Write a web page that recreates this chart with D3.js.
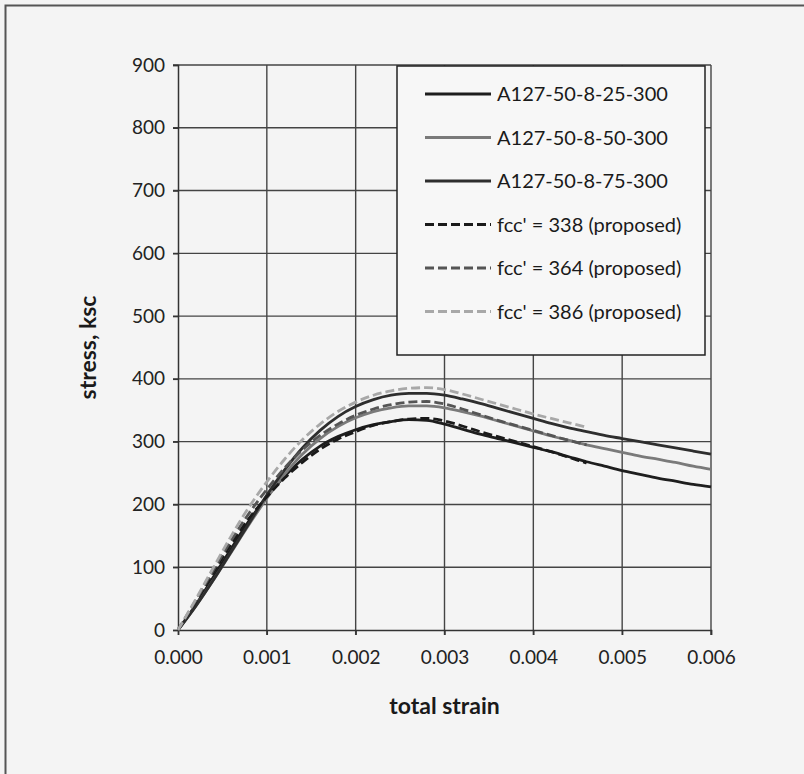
<!DOCTYPE html>
<html>
<head>
<meta charset="utf-8">
<script src="https://cdn.jsdelivr.net/npm/d3@7"></script>
<style>
  html, body { margin: 0; padding: 0; background: #f4f4f4; }
  svg { display: block; font-family: Lato, "Open Sans", sans-serif; }
</style>
</head>
<body>
<svg id="chart" width="804" height="774"></svg>
<script>
const width = 804;
const height = 774;

// strain values of the sampled points (solid = test, dashed = proposed model)
var strainTest = [0, 0.0002, 0.0004, 0.0006, 0.0008, 0.001, 0.0012, 0.0014, 0.0016, 0.0018, 0.002, 0.0022, 0.0024, 0.0026, 0.0028, 0.003, 0.0032, 0.0034, 0.0036, 0.0038, 0.004, 0.0042, 0.0044, 0.0046, 0.0048, 0.005, 0.0052, 0.0054, 0.0056, 0.0058, 0.006];
var strainModel = [0, 0.0002, 0.0004, 0.0006, 0.0008, 0.001, 0.0012, 0.0014, 0.0016, 0.0018, 0.002, 0.0022, 0.0024, 0.0026, 0.0028, 0.003, 0.0032, 0.0034, 0.0036, 0.0038, 0.004, 0.0042, 0.0044, 0.0046];

var stress25 = [0, 40, 85, 130, 174, 212, 245, 272, 293, 308, 319, 327, 332, 335, 334, 328, 320, 312, 305, 298, 291, 284, 276, 268, 261, 254, 248, 242, 237, 232, 228];
var stress50 = [0, 38, 80, 124, 168, 210, 248, 280, 305, 324, 338, 348, 354, 357, 357, 354, 348, 341, 333, 325, 317, 309, 302, 295, 289, 283, 277, 272, 267, 261, 256];
var stress75 = [0, 38, 80, 125, 170, 215, 255, 290, 318, 340, 356, 367, 374, 377, 377, 374, 368, 361, 353, 345, 337, 329, 322, 316, 310, 305, 300, 295, 290, 285, 280];
var model338 = [0, 45, 92, 137, 178, 212, 242, 267, 288, 304, 316, 326, 332, 336, 337, 333, 325, 316, 308, 300, 292, 284, 275, 266];
var model364 = [0, 47, 96, 143, 186, 224, 258, 287, 310, 328, 342, 352, 359, 363, 364, 360, 352, 343, 334, 326, 318, 310, 302, 295];
var model386 = [0, 49, 100, 150, 196, 236, 272, 303, 328, 348, 363, 374, 381, 385, 386, 383, 376, 368, 360, 352, 344, 337, 330, 323];

var xTicks = [0, 0.001, 0.002, 0.003, 0.004, 0.005, 0.006];
var yTicks = [0, 100, 200, 300, 400, 500, 600, 700, 800, 900];

var series = [
  {name: "A127-50-8-25-300", x: strainTest, y: stress25, color: "#1e1e1e", dash: null},
  {name: "A127-50-8-50-300", x: strainTest, y: stress50, color: "#7a7a7a", dash: null},
  {name: "A127-50-8-75-300", x: strainTest, y: stress75, color: "#2e2e2e", dash: null},
  {name: "fcc' = 338 (proposed)", x: strainModel, y: model338, color: "#1a1a1a", dash: "9,4"},
  {name: "fcc' = 364 (proposed)", x: strainModel, y: model364, color: "#555555", dash: "9,4"},
  {name: "fcc' = 386 (proposed)", x: strainModel, y: model386, color: "#a8a8a8", dash: "9,4"}
];

var svg = d3.select("#chart");

// outer frame (cropped on right / bottom)
svg.append("path")
  .attr("d", "M5.5,774 L5.5,5.5 L804,5.5")
  .attr("fill", "none")
  .attr("stroke", "#555")
  .attr("stroke-width", 2);

var plotLeft = 178, plotRight = 711, plotTop = 65, plotBottom = 630;

var xScale = d3.scaleLinear().domain([0, 0.006]).range([plotLeft, plotRight]);
var yScale = d3.scaleLinear().domain([0, 900]).range([plotBottom, plotTop]);

// grid
svg.append("g")
  .selectAll("line")
  .data(xTicks.slice(1))
  .enter()
  .append("line")
  .attr("x1", d => xScale(d)).attr("x2", d => xScale(d))
  .attr("y1", plotTop).attr("y2", plotBottom + 5)
  .attr("stroke", "#444").attr("stroke-width", 1.4);

svg.append("g")
  .selectAll("line")
  .data(yTicks.slice(1))
  .enter()
  .append("line")
  .attr("x1", plotLeft - 5).attr("x2", plotRight)
  .attr("y1", d => yScale(d)).attr("y2", d => yScale(d))
  .attr("stroke", "#444").attr("stroke-width", 1.4);

// axes
var xAxis = d3.axisBottom(xScale).tickValues(xTicks).tickSize(5).tickPadding(16)
  .tickFormat(d3.format(".3f"));
var yAxis = d3.axisLeft(yScale).tickValues(yTicks).tickSize(5).tickPadding(8)
  .tickFormat(d3.format("d"));

var gx = svg.append("g")
  .attr("transform", "translate(0," + plotBottom + ")")
  .call(xAxis);
var gy = svg.append("g")
  .attr("transform", "translate(" + plotLeft + ",0)")
  .call(yAxis);

[gx, gy].forEach(function (g) {
  g.select(".domain").attr("stroke", "#333").attr("stroke-width", 1.5);
  g.selectAll(".tick line").attr("stroke", "#333").attr("stroke-width", 1.4);
  g.selectAll(".tick text")
    .attr("fill", "#222")
    .style("font-size", "19px")
    .style("font-family", "Lato, 'Open Sans', sans-serif");
});

// axis titles
svg.append("text")
  .attr("x", (plotLeft + plotRight) / 2)
  .attr("y", 714)
  .attr("text-anchor", "middle")
  .attr("font-weight", "bold")
  .attr("font-size", 23)
  .attr("fill", "#1a1a1a")
  .text("total strain");

svg.append("text")
  .attr("transform", "translate(96," + ((plotTop + plotBottom) / 2) + ") rotate(-90)")
  .attr("text-anchor", "middle")
  .attr("font-weight", "bold")
  .attr("font-size", 23)
  .attr("fill", "#1a1a1a")
  .text("stress, ksc");

// curves
var line = d3.line()
  .x(d => xScale(d[0]))
  .y(d => yScale(d[1]))
  .curve(d3.curveMonotoneX);

svg.append("g")
  .selectAll("path")
  .data(series)
  .enter()
  .append("path")
  .attr("d", s => line(s.x.map((v, i) => [v, s.y[i]])))
  .attr("fill", "none")
  .attr("stroke", s => s.color)
  .attr("stroke-width", 2.8)
  .attr("stroke-dasharray", s => s.dash);

// legend
var legend = svg.append("g").attr("transform", "translate(397,66)");
legend.append("rect")
  .attr("x", 0).attr("y", 0)
  .attr("width", 308).attr("height", 289)
  .attr("fill", "#f7f7f7")
  .attr("stroke", "#222")
  .attr("stroke-width", 1.5);

var item = legend.selectAll(".item")
  .data(series)
  .enter()
  .append("g")
  .attr("class", "item")
  .attr("transform", (d, i) => "translate(0," + (28 + i * 43.5) + ")");

item.append("line")
  .attr("x1", 28).attr("x2", 94)
  .attr("y1", 0).attr("y2", 0)
  .attr("stroke", d => d.color)
  .attr("stroke-width", 2.8)
  .attr("stroke-dasharray", d => d.dash);

item.append("text")
  .attr("x", 100)
  .attr("y", 7)
  .attr("font-size", 20)
  .attr("fill", "#1a1a1a")
  .text(d => d.name);
</script>
</body>
</html>
